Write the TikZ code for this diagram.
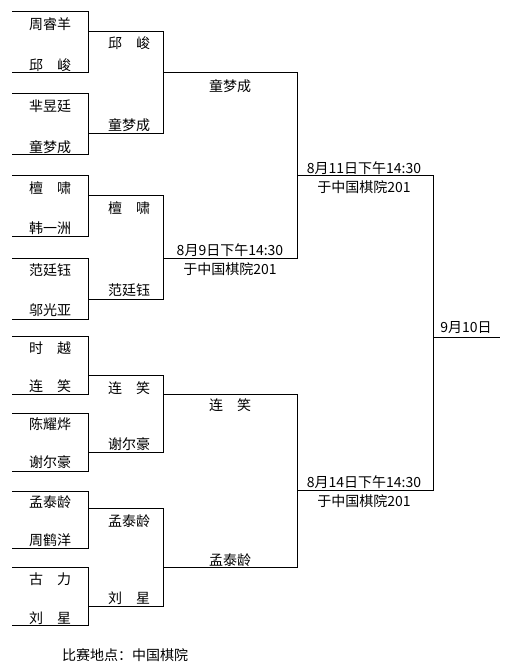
\documentclass[tikz,border=0pt]{standalone}
\usepackage{fontspec}
\newfontfamily\cjk{Noto Sans CJK SC}
\begin{document}
\begin{tikzpicture}[x=1pt,y=-1pt,
  bline/.style={line width=1pt,draw=black},
  lbl/.style={font=\cjk\fontsize{14}{16}\selectfont,inner sep=0pt,anchor=center}]
\useasboundingbox[fill=white] (0,0) rectangle (508,671);
% level 1 boxes
\foreach \n/\t/\b in {1/12/73,2/94/155,3/175/236,4/258/319,5/336/394,6/413/471,7/491/548,8/567/625}{
  \coordinate (a\n tl) at (12,\t); \coordinate (a\n tr) at (88,\t);
  \coordinate (a\n br) at (88,\b); \coordinate (a\n bl) at (12,\b);
  \draw[bline] (a\n tl) -- (a\n tr) -- (a\n br) -- (a\n bl);
}
% level 2
\foreach \n/\t/\b in {1/32/134,2/195/299,3/375/452,4/508/606}{
  \coordinate (b\n tl) at (88,\t); \coordinate (b\n tr) at (163,\t);
  \coordinate (b\n br) at (163,\b); \coordinate (b\n bl) at (88,\b);
  \draw[bline] (b\n tl) -- (b\n tr) -- (b\n br) -- (b\n bl);
}
% level 3
\foreach \n/\t/\b in {1/73/258,2/394/567}{
  \coordinate (c\n tl) at (163,\t); \coordinate (c\n tr) at (297,\t);
  \coordinate (c\n br) at (297,\b); \coordinate (c\n bl) at (163,\b);
  \draw[bline] (c\n tl) -- (c\n tr) -- (c\n br) -- (c\n bl);
}
% level 4
\coordinate (dtl) at (297,175); \coordinate (dtr) at (433,175);
\coordinate (dbr) at (433,490); \coordinate (dbl) at (297,490);
\draw[bline] (dtl) -- (dtr) -- (dbr) -- (dbl);
% final
\coordinate (fl) at (433,337); \coordinate (fr) at (500,337);
\draw[bline] (fl) -- (fr);
% level 1 names
\node[lbl] (p1) at (50,24.5) {周睿羊};
\node[lbl] (p2) at (50,65) {邱　峻};
\node[lbl] (p3) at (50,106.5) {芈昱廷};
\node[lbl] (p4) at (50,147) {童梦成};
\node[lbl] (p5) at (50,188) {檀　啸};
\node[lbl] (p6) at (50,228.5) {韩一洲};
\node[lbl] (p7) at (50,270.5) {范廷钰};
\node[lbl] (p8) at (50,310.5) {邬光亚};
\node[lbl] (p9) at (50,348) {时　越};
\node[lbl] (p10) at (50,386) {连　笑};
\node[lbl] (p11) at (50,424.5) {陈耀烨};
\node[lbl] (p12) at (50,462.5) {谢尔豪};
\node[lbl] (p13) at (50,502.5) {孟泰龄};
\node[lbl] (p14) at (50,540.5) {周鹤洋};
\node[lbl] (p15) at (50,579) {古　力};
\node[lbl] (p16) at (50,618) {刘　星};
% level 2 names
\node[lbl] (q1) at (129,43.5) {邱　峻};
\node[lbl] (q2) at (129,125.5) {童梦成};
\node[lbl] (q3) at (129,208) {檀　啸};
\node[lbl] (q4) at (129,290.5) {范廷钰};
\node[lbl] (q5) at (129,388) {连　笑};
\node[lbl] (q6) at (129,444.5) {谢尔豪};
\node[lbl] (q7) at (129,521) {孟泰龄};
\node[lbl] (q8) at (129,598) {刘　星};
% level 3
\node[lbl] (r1) at (230,86) {童梦成};
\node[lbl] (r2) at (230,250.5) {8月9日下午14:30};
\node[lbl] (r3) at (230,269.5) {于中国棋院201};
\node[lbl] (r4) at (230,405.5) {连　笑};
\node[lbl] (r5) at (230,560) {孟泰龄};
% level 4
\node[lbl] (s1) at (364,168) {8月11日下午14:30};
\node[lbl] (s2) at (364,187) {于中国棋院201};
\node[lbl] (s3) at (364,482) {8月14日下午14:30};
\node[lbl] (s4) at (364,501) {于中国棋院201};
% final
\node[lbl] (t1) at (466,328) {9月10日};
% footer
\node[lbl] (foot) at (125,655.5) {比赛地点：中国棋院};
\end{tikzpicture}
\end{document}
